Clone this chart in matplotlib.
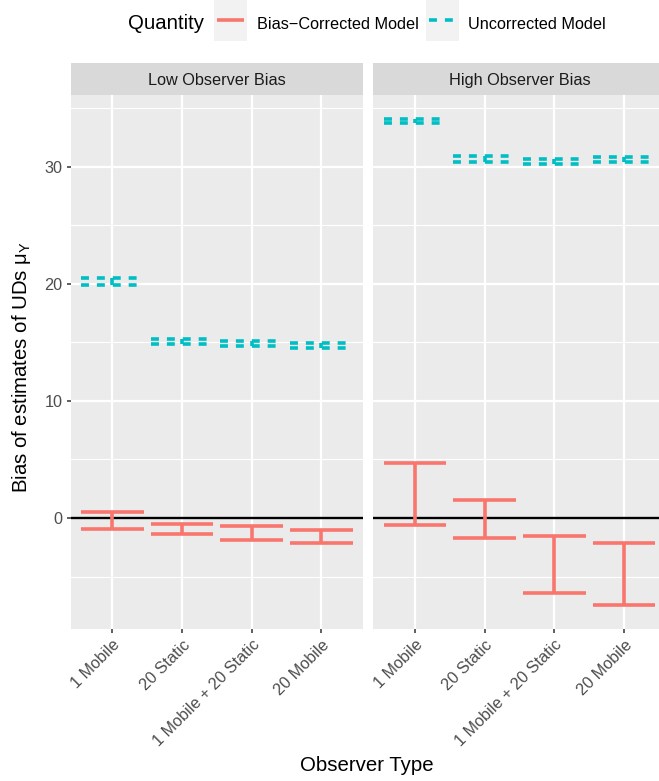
import matplotlib.pyplot as plt
from matplotlib.patches import Rectangle
from matplotlib.lines import Line2D

plt.rcParams['font.family'] = ['Liberation Sans', 'DejaVu Sans']
plt.rcParams['mathtext.fontset'] = 'custom'
plt.rcParams['mathtext.rm'] = 'Liberation Sans'
plt.rcParams['mathtext.default'] = 'regular'

categories = ["1 Mobile", "20 Static", "1 Mobile + 20 Static", "20 Mobile"]
panels = ["Low Observer Bias", "High Observer Bias"]
series = ["Bias\u2212Corrected Model", "Uncorrected Model"]

# error bar limits (upper, lower) per panel and series
low_corr_hi = [0.49, -0.54, -0.66, -1.02]
low_corr_lo = [-0.96, -1.39, -1.88, -2.16]
low_unc_hi = [20.51, 15.26, 15.14, 14.97]
low_unc_lo = [19.89, 14.91, 14.71, 14.54]
high_corr_hi = [4.73, 1.54, -1.51, -2.11]
high_corr_lo = [-0.57, -1.74, -6.43, -7.41]
high_unc_hi = [34.07, 30.90, 30.65, 30.82]
high_unc_lo = [33.73, 30.43, 30.28, 30.45]

RED = '#F8766D'
CYAN = '#00BFC4'
LW = 2.6
DASH = (0, (2.2, 2.2))

W, H = 659, 781
fig = plt.figure(figsize=(W / 100, H / 100), dpi=100)


def px_box(x0, y0, x1, y1):
    # pixel box (top-left origin) -> figure fraction rect
    return [x0 / W, 1 - y1 / H, (x1 - x0) / W, (y1 - y0) / H]


all_vals = low_corr_hi + low_corr_lo + low_unc_hi + low_unc_lo + \
    high_corr_hi + high_corr_lo + high_unc_hi + high_unc_lo
vmin, vmax = min(all_vals), max(all_vals)
pad = 0.05 * (vmax - vmin)
ylim = (vmin - pad, vmax + pad)

panel_top, panel_bot = 95, 629
panel_data = [
    (panels[0], 70.6, (low_corr_hi, low_corr_lo), (low_unc_hi, low_unc_lo)),
    (panels[1], 373.3, (high_corr_hi, high_corr_lo), (high_unc_hi, high_unc_lo)),
]
pw = 292.6

xs = list(range(1, len(categories) + 1))

for k, (title, x0, corr, unc) in enumerate(panel_data):
    ax = fig.add_axes(px_box(x0, panel_top, x0 + pw, panel_bot))
    ax.set_facecolor('#EBEBEB')
    for s in ax.spines.values():
        s.set_visible(False)
    ax.set_xlim(0.4, 4.6)
    ax.set_ylim(*ylim)
    ax.set_yticks([0, 10, 20, 30])
    ax.set_yticks([-5, 5, 15, 25, 35], minor=True)
    ax.set_xticks(xs)
    ax.set_xticklabels(categories, rotation=45, ha='right', va='top',
                       rotation_mode='anchor', fontsize=11.7, color='#4D4D4D')
    ax.grid(which='major', color='white', lw=1.6)
    ax.grid(which='minor', axis='y', color='white', lw=0.8)
    ax.set_axisbelow(True)
    ax.tick_params(axis='x', length=3, width=1.1, color='#333333', pad=3)
    ax.tick_params(axis='y', which='minor', length=0)
    if k == 0:
        ax.tick_params(axis='y', which='major', length=3, width=1.1,
                       color='#333333', pad=3, labelsize=11.7,
                       labelcolor='#4D4D4D')
    else:
        ax.tick_params(axis='y', which='major', length=0, labelleft=False)

    ax.axhline(0, color='black', lw=1.7, zorder=2)

    for (hi, lo), color, ls in [(corr, RED, '-'), (unc, CYAN, DASH)]:
        for x, yh, yl in zip(xs, hi, lo):
            kw = dict(color=color, lw=LW, ls=ls, solid_capstyle='butt',
                      dash_capstyle='butt', zorder=3)
            ax.plot([x - 0.45, x + 0.45], [yh, yh], **kw)
            ax.plot([x, x], [yh, yl], **kw)
            ax.plot([x - 0.45, x + 0.45], [yl, yl], **kw)

    # facet strip
    sax = fig.add_axes(px_box(x0, 63, x0 + pw, panel_top))
    sax.set_facecolor('#D9D9D9')
    sax.set_xticks([])
    sax.set_yticks([])
    for s in sax.spines.values():
        s.set_visible(False)
    sax.text(0.5, 0.45, title, transform=sax.transAxes, ha='center',
             va='center', fontsize=11.7, color='#1A1A1A')

fig.text(367 / W, 1 - 771 / H, "Observer Type", ha='center', va='baseline',
         fontsize=14.7)
fig.text(22 / W, 1 - 367 / H, "Bias of estimates of UDs \u03bc$_{Y}$",
         rotation=90, ha='center', va='center', fontsize=14.7)

# legend across the top
base = 1 - 29 / H
fig.text(128 / W, base, "Quantity", ha='left', va='baseline', fontsize=14.7)
for bx, lx, color, ls, label in [(214, 257, RED, '-', series[0]),
                                 (426, 468, CYAN, DASH, series[1])]:
    fig.patches.append(Rectangle((bx / W, 1 - 41 / H), 33 / W, 41 / H,
                                 transform=fig.transFigure,
                                 facecolor='#F2F2F2', edgecolor='none'))
    fig.lines.append(Line2D([(bx + 3) / W, (bx + 30) / W],
                            [1 - 20 / H, 1 - 20 / H],
                            transform=fig.transFigure, color=color, lw=LW,
                            ls=ls, solid_capstyle='butt',
                            dash_capstyle='butt'))
    fig.text(lx / W, base, label, ha='left', va='baseline', fontsize=11.7)

fig.savefig('out.png', dpi=100)
